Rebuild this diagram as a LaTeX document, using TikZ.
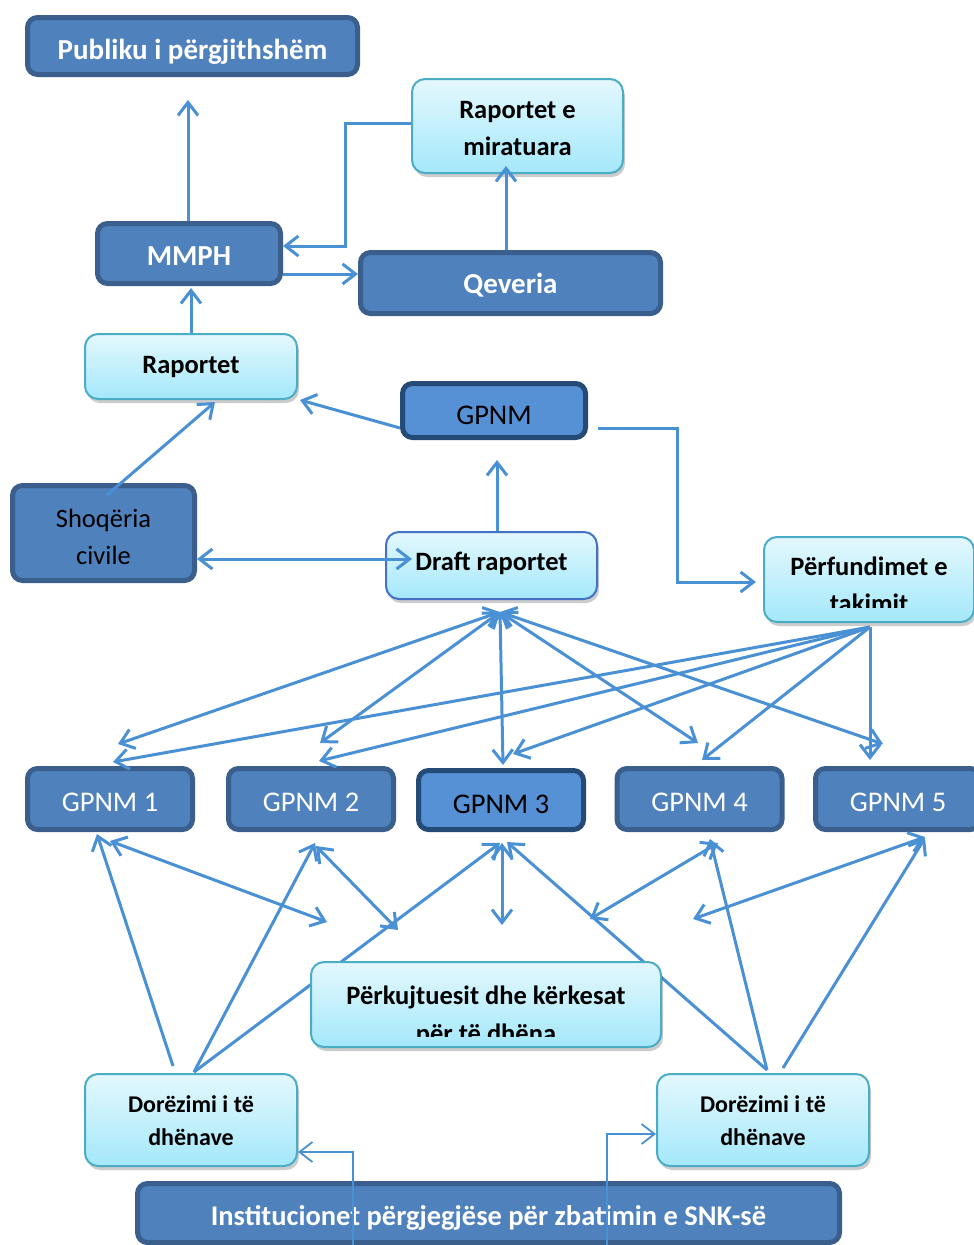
\documentclass[tikz,border=0pt]{standalone}
\usepackage{fontspec}
\setmainfont{Carlito}
\usetikzlibrary{arrows.meta,shadows}
\definecolor{dfill}{HTML}{4F81BD}
\definecolor{dline}{HTML}{3A5F8C}
\definecolor{mfill}{HTML}{5591D4}
\definecolor{nline}{HTML}{244A75}
\definecolor{ltop}{HTML}{E4F8FD}
\definecolor{lbot}{HTML}{A4E8FB}
\definecolor{lline}{HTML}{4BACC6}
\definecolor{bline}{HTML}{4472C4}
\definecolor{linec}{HTML}{4A90D4}
\newcommand\fHd{\fontsize{29}{35}\selectfont\bfseries}
\newcommand\fGp{\fontsize{28.5}{35}\selectfont}
\newcommand\fLb{\fontsize{26.5}{37.5}\selectfont\bfseries}
\newcommand\fIn{\fontsize{28.5}{34}\selectfont\bfseries}
\newcommand\fSh{\fontsize{26.5}{37}\selectfont}
\newcommand\fDz{\fontsize{24}{33}\selectfont\bfseries}
\newcommand\twol[2]{\begin{tabular}[t]{@{}c@{}}#1\\#2\end{tabular}}
\begin{document}
\begin{tikzpicture}[x=1pt,y=-1pt,
  >={Straight Barb[length=13pt,width=20pt]},
  bsize/.style 2 args={minimum width=#1pt,minimum height=#2pt},
  tpos/.style 2 args={text height=#1pt,text depth=#2pt},
  box/.style={rectangle,inner sep=0pt},
  darkbox/.style={box,rounded corners=10pt,fill=dfill,draw=dline,line width=5pt,text=white},
  navybox/.style={box,rounded corners=10pt,fill=mfill,draw=nline,line width=5pt,text=black},
  lightbox/.style={box,rounded corners=13pt,top color=ltop,bottom color=lbot,draw=lline,line width=2pt,text=black,
     drop shadow={shadow xshift=2pt,shadow yshift=-4pt,fill=black,opacity=0.2}},
  conn/.style={draw=linec,line width=3pt},
  thinconn/.style={draw=linec,line width=1.8pt},
  tx/.style={inner sep=0pt,outer sep=0pt}
]
\clip (0,0) rectangle (974,1245);

% ---------- boxes ----------
\node[darkbox,bsize={330}{57},tpos={26}{0}] (pub) at (192.5,46) {\fHd Publiku i përgjithshëm};
\node[lightbox,bsize={211}{94},tpos={0}{16}] (ram) at (517.5,126) {\fLb\twol{Raportet e}{miratuara}};
\node[darkbox,bsize={183}{60},tpos={23}{0}] (mmph) at (189,253.5) {\fHd MMPH};
\node[darkbox,bsize={300}{61},tpos={21}{0}] (qev) at (510.5,283) {\fHd Qeveria};
\node[lightbox,bsize={212}{65},tpos={13}{0}] (rap) at (191,366.5) {\fLb Raportet};
\node[navybox,bsize={183}{54},tpos={27}{0}] (gpnm) at (494,410.5) {\fGp GPNM};
\node[darkbox,text=black,bsize={182}{95},tpos={0}{12}] (shoq) at (103.5,533) {\fSh\twol{Shoqëria}{civile}};
\node[lightbox,draw=bline,bsize={211}{67},tpos={9}{0}] (draft) at (491.5,565.5) {\fLb Draft raportet};
\node[lightbox,bsize={210}{85}] (perf) at (869,579.5) {};
\begin{scope}
  \clip (760,530) rectangle (980,607);
  \node[tx,tpos={0}{9}] (perfT) at (perf.center) {\fLb\twol{Përfundimet e}{takimit}};
\end{scope}

\node[darkbox,bsize={165}{61},tpos={24}{0}] (g1) at (110,799) {\fGp GPNM 1};
\node[darkbox,bsize={165}{61},tpos={24}{0}] (g2) at (311,799) {\fGp GPNM 2};
\node[navybox,bsize={165}{59},tpos={26}{0}] (g3) at (501,800) {\fGp GPNM 3};
\node[darkbox,bsize={165}{61},tpos={24}{0}] (g4) at (699.5,799) {\fGp GPNM 4};
\node[darkbox,bsize={165}{61},tpos={24}{0}] (g5) at (898,799) {\fGp GPNM 5};

\node[lightbox,bsize={212}{92},tpos={0}{16}] (dl) at (191,1120) {\fDz\twol{Dorëzimi i të}{dhënave}};
\node[lightbox,bsize={212}{92},tpos={0}{16}] (dr) at (763,1120) {\fDz\twol{Dorëzimi i të}{dhënave}};
\node[darkbox,bsize={702}{59},tpos={24}{0}] (inst) at (488.5,1213) {\fIn Institucionet përgjegjëse për zbatimin e SNK-së};

% ---------- free connector ends ----------
\coordinate (dlA) at (173,1066);
\coordinate (dlB) at (194,1072);
\coordinate (drA) at (767,1070);
\coordinate (drB) at (783,1068);

% lines passing behind the reminder box
\draw[conn,->] (dlB) -- (500,843) coordinate (g3b1);
\draw[conn,->] (drA) -- (507,842) coordinate (g3b2);

\node[lightbox,bsize={350}{85}] (perk) at (486,1004.5) {};
\begin{scope}
  \clip (305,955) rectangle (670,1036);
  \node[tx,tpos={0}{0}] (perkT) at (perk.center) {\fLb\twol{Përkujtuesit dhe kërkesat}{për të dhëna}};
\end{scope}

% ---------- upper connectors ----------
\coordinate (pubB) at (188,100);
\draw[conn,->] (mmph.north -| pubB) -- (pubB);
\draw[conn,->] (ram.west |- 0,123) -- (345,123) |- (mmph.east |- 0,246);
\draw[conn,->] (mmph.east |- 0,274) -- (qev.west |- 0,274);
\coordinate (ramB) at (506,166);
\draw[conn,->] (qev.north -| ramB) -- (ramB);
\coordinate (rapT) at (191,288);
\draw[conn,->] (rap.north) -- (rapT);
\coordinate (shoqS) at (107,495);
\coordinate (rapB) at (215,402);
\draw[conn,->] (shoqS) -- (rapB);
\coordinate (rapR) at (300,400);
\draw[conn,->] (gpnm.west |- 0,428) -- (rapR);
\coordinate (draftL) at (412,559);
\draw[conn,<->] (shoq.east |- 0,559) -- (draftL);
\coordinate (gpnmB) at (497,460);
\draw[conn,->] (draft.north -| gpnmB) -- (gpnmB);
\coordinate (gpnmR) at (598,428);
\coordinate (perfL) at (756,582);
\draw[conn,->] (gpnmR) -- (677,428) |- (perfL);

% ---------- fan from draft reports ----------
\coordinate (hub1) at (500,612);
\coordinate (t11) at (118,744);
\coordinate (t12) at (320,743);
\coordinate (t13) at (503,765);
\coordinate (t14) at (698,743);
\coordinate (t15) at (883,744);
\foreach \e in {t11,t12,t13,t14,t15} \draw[conn,<->] (hub1) -- (\e);

% ---------- fan from meeting conclusions ----------
\coordinate (hub2) at (870,627);
\coordinate (t21) at (113,762);
\coordinate (t22) at (319,761);
\coordinate (t23) at (513,754);
\coordinate (t24) at (702,760);
\coordinate (t25) at (870,760);
\foreach \e in {t21,t22,t23,t24,t25} \draw[conn,->] (hub2) -- (\e);

% ---------- lower connectors ----------
\draw[conn,->] (dlA) -- (97,834);
\draw[conn,<->] (110,841) -- (327,922);
\draw[conn,->] (dlB) -- (315,843);
\draw[conn,<->] (316,846) -- (398,930);
\draw[conn,<->] (502,843) -- (502,925);
\draw[conn,<->] (718,843) -- (590,919);
\draw[conn,->] (drA) -- (710,839);
\draw[conn,<->] (925,837) -- (693,919);
\draw[conn,->] (drB) -- (925,838);

% ---------- from institutions ----------
\coordinate (instA) at (353,1250);
\coordinate (instB) at (607,1250);
\draw[thinconn,->] (instA) |- (dl.east |- 0,1152);
\draw[thinconn,->] (instB) |- (dr.west |- 0,1134);
\end{tikzpicture}
\end{document}
